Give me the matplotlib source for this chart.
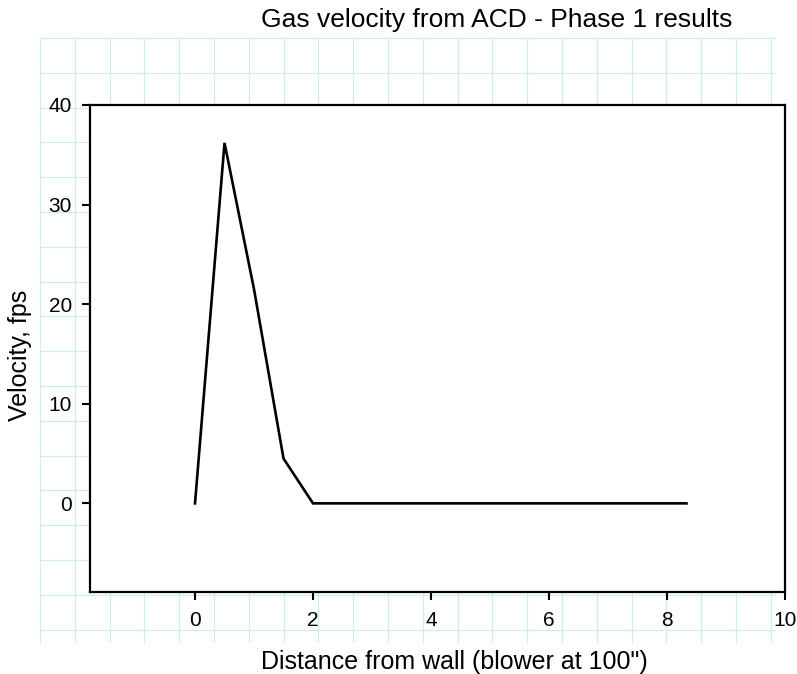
import matplotlib

matplotlib.use("Agg")
import matplotlib.pyplot as plt

# distance from wall in feet (blower at 100" = 8.33 ft), velocity in fps
distance = [0, 0.5, 1.0, 1.5, 2.0, 8.33]
velocity = [0, 36.2, 21.5, 4.5, 0, 0]

x_ticks = [0, 2, 4, 6, 8, 10]
y_ticks = [0, 10, 20, 30, 40]

W, H = 797, 674
plt.rcParams["font.family"] = ["Liberation Sans", "DejaVu Sans"]

fig = plt.figure(figsize=(W / 100, H / 100), dpi=100)

# graph-paper background behind the plot
bg = fig.add_axes([0, 0, 1, 1], zorder=0)
bg.set_xlim(0, W)
bg.set_ylim(H, 0)
bg.axis("off")
step = 34.8
grid_color = "#c9eff0"
for k in range(22):
    gx = 40 + step * k
    bg.plot([gx, gx], [38, 642], color=grid_color, lw=0.9)
for k in range(18):
    gy = 38 + step * k
    bg.plot([40, 775], [gy, gy], color=grid_color, lw=0.9)

ax = fig.add_axes([90 / W, 1 - 592 / H, 695 / W, 487 / H], zorder=1)
ax.set_facecolor("white")
ax.plot(distance, velocity, color="black", lw=1.9, solid_joinstyle="miter")

ax.set_xlim(-1.78, 10)
ax.set_ylim(-8.9, 40)
ax.set_xticks(x_ticks)
ax.set_yticks(y_ticks)
ax.tick_params(direction="out", length=6, width=1.5, labelsize=15, colors="black")
ax.tick_params(axis="x", pad=8)
ax.tick_params(axis="y", pad=7)
for spine in ax.spines.values():
    spine.set_linewidth(1.6)
    spine.set_color("black")

fig.text(497 / W, 1 - 20 / H, "Gas velocity from ACD - Phase 1 results",
         ha="center", va="center", fontsize=19)
fig.text(454 / W, 1 - 662 / H, "Distance from wall (blower at 100\")",
         ha="center", va="center", fontsize=18)
fig.text(20 / W, 1 - 355 / H, "Velocity, fps", rotation=90,
         ha="center", va="center", fontsize=18)

fig.savefig("out.png", dpi=100)
